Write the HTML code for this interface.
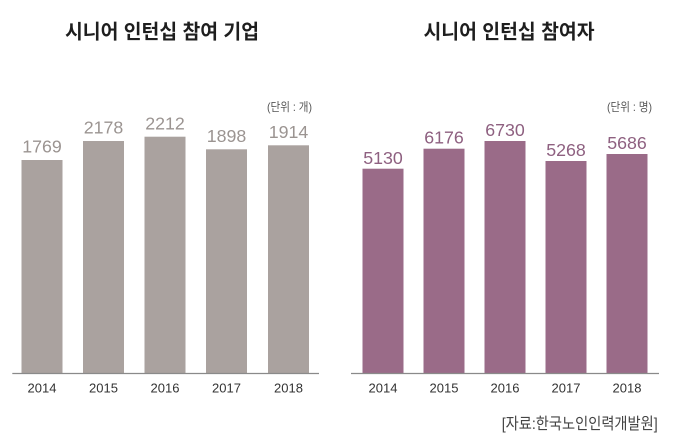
<!DOCTYPE html>
<html>
<head>
<meta charset="utf-8">
<style>
  html, body { margin: 0; padding: 0; background: #ffffff; }
  body { width: 679px; height: 443px; overflow: hidden; }
  svg { display: block; }
  .kr { font-family: "Liberation Sans", "Noto Sans CJK KR", sans-serif; }
  .num { font-family: "Liberation Sans", sans-serif; }
</style>
</head>
<body>
<svg width="679" height="443" viewBox="0 0 679 443" xmlns="http://www.w3.org/2000/svg">
  <rect x="0" y="0" width="679" height="443" fill="#ffffff"/>

  <!-- Titles -->
  <text class="kr" x="65" y="38.5" font-size="20" font-weight="bold" fill="#1e1e1e" textLength="194" lengthAdjust="spacingAndGlyphs">시니어 인턴십 참여 기업</text>
  <text class="kr" x="423.5" y="38.5" font-size="20" font-weight="bold" fill="#1e1e1e" textLength="171" lengthAdjust="spacingAndGlyphs">시니어 인턴십 참여자</text>

  <!-- Unit labels -->
  <text class="kr" x="267" y="111" font-size="12" fill="#555" textLength="45" lengthAdjust="spacingAndGlyphs">(단위 : 개)</text>
  <text class="kr" x="607" y="111" font-size="12" fill="#555" textLength="45" lengthAdjust="spacingAndGlyphs">(단위 : 명)</text>

  <!-- Left chart bars -->
  <g fill="#aaa29f">
    <rect x="21.5" y="160" width="41" height="213.3"/>
    <rect x="83" y="141" width="41" height="232.3"/>
    <rect x="144.5" y="136.7" width="41" height="236.6"/>
    <rect x="206" y="149.3" width="41" height="224"/>
    <rect x="268" y="145.3" width="41" height="228"/>
  </g>
  <g class="num" font-size="17.8" fill="#9b9491" text-anchor="middle">
    <text x="42" y="152.6">1769</text>
    <text x="103.5" y="133.6">2178</text>
    <text x="165" y="129.3">2212</text>
    <text x="226.5" y="141.9">1898</text>
    <text x="288.5" y="137.9">1914</text>
  </g>
  <line x1="12.3" y1="373.5" x2="319" y2="373.5" stroke="#8a8a8a" stroke-width="1.3"/>
  <g class="num" font-size="13" fill="#333" text-anchor="middle">
    <text x="42" y="392.7">2014</text>
    <text x="103.5" y="392.7">2015</text>
    <text x="165" y="392.7">2016</text>
    <text x="226.5" y="392.7">2017</text>
    <text x="288.5" y="392.7">2018</text>
  </g>

  <!-- Right chart bars -->
  <g fill="#9a6b88">
    <rect x="362.5" y="168.7" width="41" height="204.6"/>
    <rect x="423.5" y="148.7" width="41" height="224.6"/>
    <rect x="484.5" y="141" width="41" height="232.3"/>
    <rect x="545.5" y="161" width="41" height="212.3"/>
    <rect x="606.5" y="154" width="41" height="219.3"/>
  </g>
  <g class="num" font-size="17.8" fill="#8e6080" text-anchor="middle">
    <text x="383" y="164">5130</text>
    <text x="444" y="143.3">6176</text>
    <text x="505" y="135.8">6730</text>
    <text x="566" y="156">5268</text>
    <text x="627" y="149">5686</text>
  </g>
  <line x1="351" y1="373.5" x2="659" y2="373.5" stroke="#8a8a8a" stroke-width="1.3"/>
  <g class="num" font-size="13" fill="#333" text-anchor="middle">
    <text x="383" y="392.7">2014</text>
    <text x="444" y="392.7">2015</text>
    <text x="505" y="392.7">2016</text>
    <text x="566" y="392.7">2017</text>
    <text x="627" y="392.7">2018</text>
  </g>

  <!-- Source -->
  <text class="kr" x="501.7" y="429" font-size="16" fill="#444" textLength="156" lengthAdjust="spacingAndGlyphs">[자료:한국노인인력개발원]</text>
</svg>
</body>
</html>
